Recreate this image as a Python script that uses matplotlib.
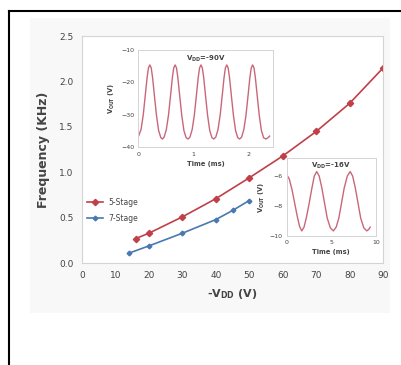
import matplotlib
matplotlib.use('Agg')
import matplotlib.pyplot as plt
from matplotlib.patches import Rectangle
from matplotlib.lines import Line2D

# ── Data ──────────────────────────────────────────────────────────────────────
vdd_5 = [16, 20, 30, 40, 50, 60, 70, 80, 90]
freq_5 = [0.27, 0.33, 0.51, 0.71, 0.94, 1.18, 1.45, 1.76, 2.15]
vdd_7 = [14, 20, 30, 40, 45, 50]
freq_7 = [0.11, 0.19, 0.33, 0.48, 0.58, 0.69]

# inset waveform, VDD = -90 V
t_90 = [0.00, 0.05, 0.09, 0.13, 0.16, 0.185, 0.21, 0.235, 0.26, 0.29, 0.33, 0.37, 0.41, 0.44,
        0.47, 0.51, 0.55, 0.59, 0.62, 0.645, 0.67, 0.695, 0.72, 0.75, 0.79, 0.83, 0.87, 0.905,
        0.94, 0.98, 1.02, 1.06, 1.09, 1.115, 1.14, 1.165, 1.19, 1.22, 1.26, 1.30, 1.34, 1.375,
        1.41, 1.45, 1.49, 1.53, 1.56, 1.585, 1.61, 1.635, 1.66, 1.69, 1.73, 1.77, 1.81, 1.845,
        1.88, 1.92, 1.96, 2.00, 2.03, 2.055, 2.08, 2.105, 2.13, 2.16, 2.20, 2.24, 2.28, 2.32,
        2.36, 2.39]
v_90 = [-36.7, -34.5, -30.0, -23.5, -18.5, -15.5, -14.6, -15.5, -18.5, -23.5, -30.0, -34.8, -37.0, -37.4,
        -36.8, -34.5, -30.0, -23.5, -18.5, -15.5, -14.6, -15.5, -18.5, -23.5, -30.0, -34.8, -37.0, -37.4,
        -36.8, -34.5, -30.0, -23.5, -18.5, -15.5, -14.6, -15.5, -18.5, -23.5, -30.0, -34.8, -37.0, -37.4,
        -36.8, -34.5, -30.0, -23.5, -18.5, -15.5, -14.6, -15.5, -18.5, -23.5, -30.0, -34.8, -37.0, -37.4,
        -36.8, -34.5, -30.0, -23.5, -18.5, -15.5, -14.6, -15.5, -18.5, -23.5, -30.0, -34.8, -37.0, -37.4,
        -37.0, -36.5]

# inset waveform, VDD = -16 V
t_16 = [0.0, 0.3, 0.6, 0.9, 1.2, 1.45, 1.7, 1.95, 2.2, 2.5, 2.8, 3.1, 3.37,
        3.65, 3.95, 4.25, 4.55, 4.9, 5.24, 5.55, 5.85, 6.15, 6.45, 6.8, 7.12,
        7.4, 7.7, 8.0, 8.3, 8.65, 8.99, 9.2, 9.36]
v_16 = [-5.9, -6.2, -6.9, -7.8, -8.7, -9.35, -9.65, -9.4, -8.8, -7.9, -6.9, -6.0, -5.7,
        -6.0, -6.8, -7.8, -8.8, -9.45, -9.65, -9.4, -8.8, -7.8, -6.8, -6.0, -5.7,
        -6.0, -6.8, -7.8, -8.8, -9.45, -9.65, -9.55, -9.4]

# ── Colors ────────────────────────────────────────────────────────────────────
RED = '#c0404a'
BLUE = '#4a78b0'
WAVE = '#c8677a'
FRAME = '#d4d4d4'
TXT = '#444444'

fig = plt.figure(figsize=(4.02, 3.65), dpi=100)
fig.patch.set_facecolor('white')

# outer black frame (top + left) and faint chart-area background
fig.add_artist(Line2D([9 / 402, 9 / 402], [0, 1 - 11 / 365], color='black', lw=1.5))
fig.add_artist(Line2D([9 / 402, 1], [1 - 11 / 365, 1 - 11 / 365], color='black', lw=1.5))
fig.add_artist(Rectangle((30 / 402, 1 - 313 / 365), 360 / 402, 295 / 365,
                         facecolor='#f8f8f8', edgecolor='none', zorder=0))

# ── Main axes ─────────────────────────────────────────────────────────────────
ax = fig.add_axes([0.204, 0.279, 0.749, 0.622])
ax.set_facecolor('white')
ax.plot(vdd_5, freq_5, color=RED, lw=1.2, marker='D', ms=3.2, label='5-Stage')
ax.plot(vdd_7, freq_7, color=BLUE, lw=1.2, marker='D', ms=2.4, label='7-Stage')
ax.set_xlim(0, 90)
ax.set_ylim(0, 2.5)
ax.set_xticks(range(0, 91, 10))
ax.set_yticks([0.0, 0.5, 1.0, 1.5, 2.0, 2.5])
ax.set_yticklabels(['0.0', '0.5', '1.0', '1.5', '2.0', '2.5'])
ax.tick_params(length=0, labelsize=6.5, labelcolor=TXT, pad=6)
for s in ax.spines.values():
    s.set_color(FRAME)
    s.set_linewidth(0.8)
ax.set_xlabel('-V$_\\mathregular{DD}$ (V)', fontsize=8, fontweight='bold', color=TXT, labelpad=5)
ax.set_ylabel('Frequency (KHz)', fontsize=9, fontweight='bold', color=TXT, labelpad=7)
ax.legend(loc='upper left', bbox_to_anchor=(0.0, 0.31), frameon=False,
          fontsize=5.5, handlelength=2.0, labelspacing=0.9, labelcolor=TXT,
          borderaxespad=0.3)

# ── Inset: VDD = -90 V ────────────────────────────────────────────────────────
ax1 = fig.add_axes([0.344, 0.596, 0.335, 0.267])
ax1.plot(t_90, v_90, color=WAVE, lw=1.0)
ax1.set_xlim(0, 2.45)
ax1.set_ylim(-40, -10)
ax1.set_xticks([0, 1, 2])
ax1.set_yticks([-10, -20, -30, -40])
ax1.tick_params(length=0, labelsize=4.5, labelcolor=TXT, pad=3)
for s in ax1.spines.values():
    s.set_color(FRAME)
    s.set_linewidth(0.7)
ax1.set_xlabel('Time (ms)', fontsize=4.8, fontweight='bold', color=TXT, labelpad=3)
ax1.set_ylabel('V$_\\mathregular{OUT}$ (V)', fontsize=4.8, fontweight='bold', color=TXT, labelpad=3)
ax1.text(0.5, 0.96, 'V$_\\mathregular{DD}$=-90V', transform=ax1.transAxes, ha='center', va='top',
         fontsize=5, fontweight='bold', color=TXT)

# ── Inset: VDD = -16 V ────────────────────────────────────────────────────────
ax2 = fig.add_axes([0.713, 0.353, 0.222, 0.214])
ax2.plot(t_16, v_16, color=WAVE, lw=1.0)
ax2.set_xlim(0, 10)
ax2.set_ylim(-10, -4.8)
ax2.set_xticks([0, 5, 10])
ax2.set_yticks([-6, -8, -10])
ax2.tick_params(length=0, labelsize=4.5, labelcolor=TXT, pad=3)
for s in ax2.spines.values():
    s.set_color(FRAME)
    s.set_linewidth(0.7)
ax2.set_xlabel('Time (ms)', fontsize=4.8, fontweight='bold', color=TXT, labelpad=3)
ax2.set_ylabel('V$_\\mathregular{OUT}$ (V)', fontsize=4.8, fontweight='bold', color=TXT, labelpad=2)
ax2.text(0.5, 0.97, 'V$_\\mathregular{DD}$=-16V', transform=ax2.transAxes, ha='center', va='top',
         fontsize=5, fontweight='bold', color=TXT)

fig.savefig('out.png', dpi=100, facecolor=fig.get_facecolor())
